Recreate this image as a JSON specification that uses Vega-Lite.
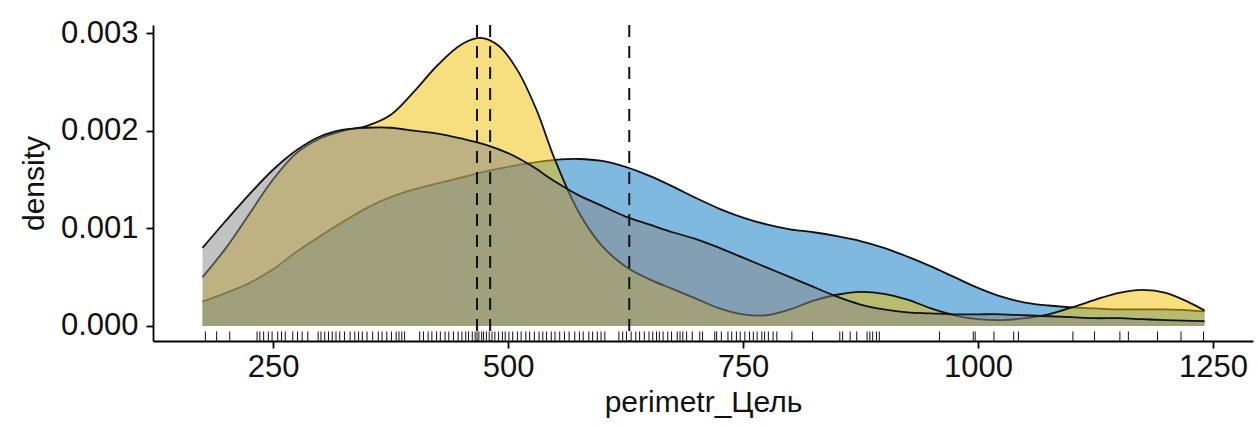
{
  "$schema": "https://vega.github.io/schema/vega-lite/v6.json",
  "width": 1100,
  "height": 316,
  "autosize": {"type": "none"},
  "padding": {"left": 153, "top": 25, "right": 5, "bottom": 86},
  "background": "white",
  "config": {
    "view": {"stroke": null},
    "axis": {
      "grid": false,
      "domainColor": "#000000",
      "domainWidth": 1.8,
      "tickColor": "#000000",
      "tickWidth": 1.8,
      "tickSize": 7,
      "labelFont": "Liberation Sans",
      "titleFont": "Liberation Sans",
      "labelFontSize": 31,
      "titleFontSize": 30,
      "labelColor": "#111111",
      "titleColor": "#111111",
      "titleFontWeight": "normal"
    },
    "axisX": {"labelPadding": 4, "titlePadding": 5},
    "axisY": {"labelPadding": 8, "titlePadding": 11}
  },
  "datasets": {
    "dens": [
      {"g": "grey", "x": 175, "d": 0.00080}, {"g": "grey", "x": 200, "d": 0.00108}, {"g": "grey", "x": 225, "d": 0.00135},
      {"g": "grey", "x": 250, "d": 0.00160}, {"g": "grey", "x": 275, "d": 0.00180}, {"g": "grey", "x": 300, "d": 0.00194},
      {"g": "grey", "x": 325, "d": 0.00201}, {"g": "grey", "x": 350, "d": 0.00203}, {"g": "grey", "x": 375, "d": 0.00203},
      {"g": "grey", "x": 400, "d": 0.00200}, {"g": "grey", "x": 425, "d": 0.00197}, {"g": "grey", "x": 450, "d": 0.00192},
      {"g": "grey", "x": 475, "d": 0.00186}, {"g": "grey", "x": 500, "d": 0.00177}, {"g": "grey", "x": 525, "d": 0.00164},
      {"g": "grey", "x": 550, "d": 0.00148}, {"g": "grey", "x": 575, "d": 0.00134}, {"g": "grey", "x": 600, "d": 0.00123},
      {"g": "grey", "x": 625, "d": 0.00112}, {"g": "grey", "x": 650, "d": 0.00104}, {"g": "grey", "x": 675, "d": 0.00096},
      {"g": "grey", "x": 700, "d": 0.00089}, {"g": "grey", "x": 725, "d": 0.00080}, {"g": "grey", "x": 750, "d": 0.00070},
      {"g": "grey", "x": 775, "d": 0.00060}, {"g": "grey", "x": 800, "d": 0.00050}, {"g": "grey", "x": 825, "d": 0.00040},
      {"g": "grey", "x": 850, "d": 0.00030}, {"g": "grey", "x": 875, "d": 0.00022}, {"g": "grey", "x": 900, "d": 0.00017},
      {"g": "grey", "x": 925, "d": 0.00014}, {"g": "grey", "x": 950, "d": 0.00013}, {"g": "grey", "x": 975, "d": 0.00012},
      {"g": "grey", "x": 1000, "d": 0.00012}, {"g": "grey", "x": 1025, "d": 0.00012}, {"g": "grey", "x": 1050, "d": 0.00011},
      {"g": "grey", "x": 1075, "d": 0.00010}, {"g": "grey", "x": 1100, "d": 0.00009}, {"g": "grey", "x": 1125, "d": 0.00008},
      {"g": "grey", "x": 1150, "d": 0.00008}, {"g": "grey", "x": 1175, "d": 0.00007}, {"g": "grey", "x": 1200, "d": 0.00006},
      {"g": "grey", "x": 1241, "d": 0.00005},

      {"g": "yellow", "x": 175, "d": 0.00050}, {"g": "yellow", "x": 200, "d": 0.00080}, {"g": "yellow", "x": 225, "d": 0.00115},
      {"g": "yellow", "x": 250, "d": 0.00150}, {"g": "yellow", "x": 275, "d": 0.00177}, {"g": "yellow", "x": 300, "d": 0.00192},
      {"g": "yellow", "x": 325, "d": 0.00200}, {"g": "yellow", "x": 350, "d": 0.00205}, {"g": "yellow", "x": 375, "d": 0.00216},
      {"g": "yellow", "x": 400, "d": 0.00240}, {"g": "yellow", "x": 425, "d": 0.00267}, {"g": "yellow", "x": 450, "d": 0.00288},
      {"g": "yellow", "x": 470, "d": 0.00295}, {"g": "yellow", "x": 490, "d": 0.00287}, {"g": "yellow", "x": 510, "d": 0.00262},
      {"g": "yellow", "x": 530, "d": 0.00222}, {"g": "yellow", "x": 550, "d": 0.00170}, {"g": "yellow", "x": 575, "d": 0.00117},
      {"g": "yellow", "x": 600, "d": 0.00082}, {"g": "yellow", "x": 625, "d": 0.00061}, {"g": "yellow", "x": 650, "d": 0.00048},
      {"g": "yellow", "x": 675, "d": 0.00038}, {"g": "yellow", "x": 700, "d": 0.00028}, {"g": "yellow", "x": 725, "d": 0.00018},
      {"g": "yellow", "x": 750, "d": 0.00012}, {"g": "yellow", "x": 775, "d": 0.00011}, {"g": "yellow", "x": 800, "d": 0.00017},
      {"g": "yellow", "x": 825, "d": 0.00026}, {"g": "yellow", "x": 850, "d": 0.00032}, {"g": "yellow", "x": 875, "d": 0.00035},
      {"g": "yellow", "x": 900, "d": 0.00033}, {"g": "yellow", "x": 925, "d": 0.00027}, {"g": "yellow", "x": 950, "d": 0.00018},
      {"g": "yellow", "x": 975, "d": 0.00011}, {"g": "yellow", "x": 1000, "d": 0.00007}, {"g": "yellow", "x": 1025, "d": 0.00006},
      {"g": "yellow", "x": 1050, "d": 0.00008}, {"g": "yellow", "x": 1075, "d": 0.00012}, {"g": "yellow", "x": 1100, "d": 0.00019},
      {"g": "yellow", "x": 1125, "d": 0.00027}, {"g": "yellow", "x": 1150, "d": 0.00034}, {"g": "yellow", "x": 1175, "d": 0.00037},
      {"g": "yellow", "x": 1200, "d": 0.00034}, {"g": "yellow", "x": 1225, "d": 0.00024}, {"g": "yellow", "x": 1241, "d": 0.00016},

      {"g": "blue", "x": 175, "d": 0.00025}, {"g": "blue", "x": 200, "d": 0.00034}, {"g": "blue", "x": 225, "d": 0.00044},
      {"g": "blue", "x": 250, "d": 0.00058}, {"g": "blue", "x": 275, "d": 0.00076}, {"g": "blue", "x": 300, "d": 0.00092},
      {"g": "blue", "x": 325, "d": 0.00107}, {"g": "blue", "x": 350, "d": 0.00121}, {"g": "blue", "x": 375, "d": 0.00132},
      {"g": "blue", "x": 400, "d": 0.00140}, {"g": "blue", "x": 425, "d": 0.00146}, {"g": "blue", "x": 450, "d": 0.00152},
      {"g": "blue", "x": 475, "d": 0.00158}, {"g": "blue", "x": 500, "d": 0.00163}, {"g": "blue", "x": 525, "d": 0.00167},
      {"g": "blue", "x": 550, "d": 0.00170}, {"g": "blue", "x": 575, "d": 0.00171}, {"g": "blue", "x": 600, "d": 0.00169},
      {"g": "blue", "x": 625, "d": 0.00163}, {"g": "blue", "x": 650, "d": 0.00154}, {"g": "blue", "x": 675, "d": 0.00143},
      {"g": "blue", "x": 700, "d": 0.00131}, {"g": "blue", "x": 725, "d": 0.00120}, {"g": "blue", "x": 750, "d": 0.00111},
      {"g": "blue", "x": 775, "d": 0.00104}, {"g": "blue", "x": 800, "d": 0.00099}, {"g": "blue", "x": 825, "d": 0.00096},
      {"g": "blue", "x": 850, "d": 0.00092}, {"g": "blue", "x": 875, "d": 0.00087}, {"g": "blue", "x": 900, "d": 0.00080},
      {"g": "blue", "x": 925, "d": 0.00071}, {"g": "blue", "x": 950, "d": 0.00061}, {"g": "blue", "x": 975, "d": 0.00050},
      {"g": "blue", "x": 1000, "d": 0.00039}, {"g": "blue", "x": 1025, "d": 0.00030}, {"g": "blue", "x": 1050, "d": 0.00024},
      {"g": "blue", "x": 1075, "d": 0.00021}, {"g": "blue", "x": 1100, "d": 0.00019}, {"g": "blue", "x": 1125, "d": 0.00018},
      {"g": "blue", "x": 1150, "d": 0.00017}, {"g": "blue", "x": 1175, "d": 0.00017}, {"g": "blue", "x": 1200, "d": 0.00017},
      {"g": "blue", "x": 1225, "d": 0.00016}, {"g": "blue", "x": 1241, "d": 0.00015}
    ],
    "rug": [
      {"x": 178}, {"x": 190}, {"x": 204}, {"x": 233}, {"x": 236}, {"x": 240}, {"x": 245}, {"x": 249}, {"x": 255},
      {"x": 259}, {"x": 263}, {"x": 271}, {"x": 276}, {"x": 281}, {"x": 287}, {"x": 298}, {"x": 301}, {"x": 305},
      {"x": 309}, {"x": 313}, {"x": 317}, {"x": 321}, {"x": 326}, {"x": 332}, {"x": 337}, {"x": 341}, {"x": 345},
      {"x": 350}, {"x": 356}, {"x": 362}, {"x": 366}, {"x": 371}, {"x": 376}, {"x": 381}, {"x": 384}, {"x": 387},
      {"x": 390}, {"x": 406}, {"x": 410}, {"x": 415}, {"x": 419}, {"x": 424}, {"x": 428}, {"x": 433}, {"x": 437},
      {"x": 442}, {"x": 447}, {"x": 451}, {"x": 455}, {"x": 458}, {"x": 462}, {"x": 465}, {"x": 467}, {"x": 469},
      {"x": 472}, {"x": 474}, {"x": 477}, {"x": 480}, {"x": 483}, {"x": 486}, {"x": 490}, {"x": 494}, {"x": 497},
      {"x": 501}, {"x": 505}, {"x": 510}, {"x": 514}, {"x": 519}, {"x": 523}, {"x": 528}, {"x": 533}, {"x": 537},
      {"x": 541}, {"x": 546}, {"x": 550}, {"x": 555}, {"x": 560}, {"x": 565}, {"x": 571}, {"x": 576}, {"x": 580},
      {"x": 586}, {"x": 590}, {"x": 595}, {"x": 599}, {"x": 603}, {"x": 618}, {"x": 622}, {"x": 626}, {"x": 631},
      {"x": 636}, {"x": 640}, {"x": 645}, {"x": 650}, {"x": 654}, {"x": 658}, {"x": 661}, {"x": 665}, {"x": 670},
      {"x": 674}, {"x": 680}, {"x": 683}, {"x": 686}, {"x": 690}, {"x": 696}, {"x": 704}, {"x": 707}, {"x": 720},
      {"x": 722}, {"x": 727}, {"x": 734}, {"x": 738}, {"x": 743}, {"x": 747}, {"x": 752}, {"x": 757}, {"x": 761},
      {"x": 765}, {"x": 770}, {"x": 773}, {"x": 777}, {"x": 782}, {"x": 786}, {"x": 802}, {"x": 824}, {"x": 853},
      {"x": 856}, {"x": 864}, {"x": 871}, {"x": 882}, {"x": 885}, {"x": 888}, {"x": 892}, {"x": 895}, {"x": 959},
      {"x": 995}, {"x": 997}, {"x": 1017}, {"x": 1038}, {"x": 1043}, {"x": 1101}, {"x": 1124}, {"x": 1151},
      {"x": 1160}, {"x": 1191}, {"x": 1216}, {"x": 1240}
    ],
    "means": [{"x": 467}, {"x": 481}, {"x": 629}]
  },
  "encoding": {
    "x": {
      "field": "x",
      "type": "quantitative",
      "scale": {"domain": [122.3, 1292.6], "nice": false, "zero": false},
      "axis": {"values": [250, 500, 750, 1000, 1250], "format": "d", "title": "perimetr_Цель"}
    }
  },
  "layer": [
    {
      "data": {"name": "dens"},
      "transform": [{"filter": "datum.g === 'blue'"}],
      "mark": {"type": "area", "color": "#0073C2", "fillOpacity": 0.5, "interpolate": "catmull-rom"},
      "encoding": {
        "y": {"field": "d", "type": "quantitative", "scale": {"domain": [-0.0001536, 0.003082], "nice": false, "zero": false},
              "axis": {"values": [0, 0.001, 0.002, 0.003], "format": ".3f", "title": "density"}},
        "y2": {"datum": 0}
      }
    },
    {
      "data": {"name": "dens"},
      "transform": [{"filter": "datum.g === 'blue'"}],
      "mark": {"type": "line", "color": "#111111", "strokeWidth": 1.8, "interpolate": "catmull-rom"},
      "encoding": {"y": {"field": "d", "type": "quantitative", "axis": {"values": [0, 0.001, 0.002, 0.003], "format": ".3f", "title": "density"}}}
    },
    {
      "data": {"name": "dens"},
      "transform": [{"filter": "datum.g === 'yellow'"}],
      "mark": {"type": "area", "color": "#EFC000", "fillOpacity": 0.5, "interpolate": "catmull-rom"},
      "encoding": {
        "y": {"field": "d", "type": "quantitative", "axis": {"values": [0, 0.001, 0.002, 0.003], "format": ".3f", "title": "density"}},
        "y2": {"datum": 0}
      }
    },
    {
      "data": {"name": "dens"},
      "transform": [{"filter": "datum.g === 'yellow'"}],
      "mark": {"type": "line", "color": "#111111", "strokeWidth": 1.8, "interpolate": "catmull-rom"},
      "encoding": {"y": {"field": "d", "type": "quantitative", "axis": {"values": [0, 0.001, 0.002, 0.003], "format": ".3f", "title": "density"}}}
    },
    {
      "data": {"name": "dens"},
      "transform": [{"filter": "datum.g === 'grey'"}],
      "mark": {"type": "area", "color": "#868686", "fillOpacity": 0.5, "interpolate": "catmull-rom"},
      "encoding": {
        "y": {"field": "d", "type": "quantitative", "axis": {"values": [0, 0.001, 0.002, 0.003], "format": ".3f", "title": "density"}},
        "y2": {"datum": 0}
      }
    },
    {
      "data": {"name": "dens"},
      "transform": [{"filter": "datum.g === 'grey'"}],
      "mark": {"type": "line", "color": "#111111", "strokeWidth": 1.8, "interpolate": "catmull-rom"},
      "encoding": {"y": {"field": "d", "type": "quantitative", "axis": {"values": [0, 0.001, 0.002, 0.003], "format": ".3f", "title": "density"}}}
    },
    {
      "data": {"name": "rug"},
      "mark": {"type": "rule", "color": "#111111", "strokeWidth": 1},
      "encoding": {
        "y": {"datum": -0.0001536, "type": "quantitative", "axis": {"values": [0, 0.001, 0.002, 0.003], "format": ".3f", "title": "density"}},
        "y2": {"datum": -0.000056}
      }
    },
    {
      "data": {"name": "means"},
      "mark": {"type": "rule", "color": "#111111", "strokeWidth": 2, "strokeDash": [12, 9]},
      "encoding": {}
    }
  ]
}
